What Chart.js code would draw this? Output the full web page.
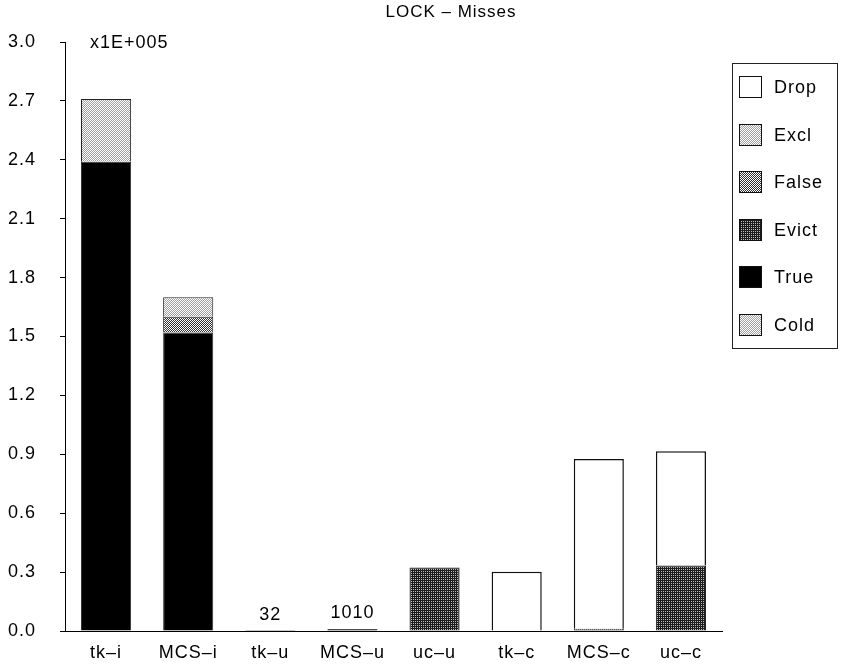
<!DOCTYPE html>
<html>
<head>
<meta charset="utf-8">
<title>LOCK – Misses</title>
<script src="https://cdn.jsdelivr.net/npm/chart.js@4/dist/chart.umd.min.js"></script>
<style>
  html, body { margin: 0; padding: 0; background: #fff; }
  canvas { display: block; }
</style>
</head>
<body>
<canvas id="chart" width="843" height="667"></canvas>
<script>
// Lock implementations, one bar each
const categories = ['tk–i', 'MCS–i', 'tk–u', 'MCS–u', 'uc–u', 'tk–c', 'MCS–c', 'uc–c'];

// Miss counts per category, by miss type (raw counts)
const coldMisses  = [null,   null,   null, null, null,  null,  null,  null];
const trueMisses  = [239000, 152000, 32,   1010, null,  null,  null,  null];
const evictMisses = [null,   null,   null, null, 32300, null,  1200,  33300];
const falseMisses = [null,   8000,   null, null, null,  null,  null,  null];
const exclMisses  = [32000,  10000,  null, null, null,  null,  null,  null];
const dropMisses  = [null,   null,   null, null, null,  30200, 86400, 58200];

// The value axis is shown in units of 1E+005 misses
const AXIS_UNIT = 1e5;
const AXIS_UNIT_LABEL = 'x1E+005';
const yTicks = [0.0, 0.3, 0.6, 0.9, 1.2, 1.5, 1.8, 2.1, 2.4, 2.7, 3.0];

// Bars too small to see get their count written above them
const labelledCategories = ['tk–u', 'MCS–u'];

const FONT = '"Liberation Sans", Arial, Helvetica, sans-serif';
const SPACING = '1px';

// Stipple fills made from a small repeating tile
function stipple(cells) {
  const n = cells.length;
  const tile = document.createElement('canvas');
  tile.width = n; tile.height = n;
  const t = tile.getContext('2d');
  for (let r = 0; r < n; r++) {
    for (let c = 0; c < n; c++) {
      t.fillStyle = cells[r][c];
      t.fillRect(c, r, 1, 1);
    }
  }
  return document.getElementById('chart').getContext('2d').createPattern(tile, 'repeat');
}

const lightFill  = stipple([['#ffffff', '#a0a0a0'], ['#a0a0a0', '#ffffff']]);
const mediumFill = stipple([['#ffffff', '#303030'], ['#303030', '#ffffff']]);
const darkFill   = stipple([['#1c1c1c', '#1c1c1c'], ['#1c1c1c', '#bdbdbd']]);

const toAxis = arr => arr.map(v => (v == null ? null : v / AXIS_UNIT));

// Stacked bottom to top: Cold, True, Evict, False, Excl, Drop
const datasets = [
  { label: 'Cold',  data: toAxis(coldMisses),  backgroundColor: lightFill,  borderColor: '#333', borderWidth: 1 },
  { label: 'True',  data: toAxis(trueMisses),  backgroundColor: '#000000',  borderColor: '#333', borderWidth: 1 },
  { label: 'Evict', data: toAxis(evictMisses), backgroundColor: darkFill,   borderColor: '#222', borderWidth: 1 },
  { label: 'False', data: toAxis(falseMisses), backgroundColor: mediumFill, borderColor: '#222', borderWidth: 1 },
  { label: 'Excl',  data: toAxis(exclMisses),  backgroundColor: lightFill,  borderColor: '#222', borderWidth: 1 },
  { label: 'Drop',  data: toAxis(dropMisses),  backgroundColor: '#ffffff',  borderColor: '#111', borderWidth: 1.5 }
];

function setSpacing(chart) {
  if ('letterSpacing' in chart.ctx) chart.ctx.letterSpacing = SPACING;
}

// Title, axis unit note, value notes and the boxed legend
const decorations = {
  id: 'decorations',
  beforeLayout: setSpacing,
  beforeDraw: setSpacing,
  afterDatasetsDraw(chart) {
    const ctx = chart.ctx;
    const meta = chart.getDatasetMeta(chart.data.datasets.findIndex(d => d.label === 'True'));
    ctx.save();
    setSpacing(chart);
    ctx.fillStyle = '#000';
    ctx.font = '18px ' + FONT;
    ctx.textAlign = 'center';
    ctx.textBaseline = 'alphabetic';
    labelledCategories.forEach(cat => {
      const i = categories.indexOf(cat);
      const bar = meta.data[i];
      ctx.fillText(String(trueMisses[i]), bar.x, bar.y - 11);
    });
    ctx.restore();
  },
  afterDraw(chart) {
    const ctx = chart.ctx;
    const area = chart.chartArea;
    ctx.save();
    setSpacing(chart);
    ctx.fillStyle = '#000';
    ctx.textBaseline = 'middle';

    ctx.font = '17px ' + FONT;
    ctx.textAlign = 'center';
    ctx.fillText('LOCK – Misses', 451, 12);

    ctx.font = '18px ' + FONT;
    ctx.textAlign = 'left';
    ctx.fillText(AXIS_UNIT_LABEL, area.left + 25, area.top + 1);

    // legend box, top entry is the top of the stack
    const boxLeft = 732.5, boxTop = 63.5, boxW = 105, boxH = 285;
    ctx.strokeStyle = '#222';
    ctx.lineWidth = 1;
    ctx.strokeRect(boxLeft, boxTop, boxW, boxH);
    const items = chart.data.datasets.slice().reverse();
    items.forEach((ds, k) => {
      const yc = 87 + k * 47.6;
      ctx.fillStyle = ds.backgroundColor;
      ctx.fillRect(739, Math.round(yc - 11), 23, 22);
      ctx.strokeStyle = '#111';
      ctx.strokeRect(739.5, Math.round(yc - 11) + 0.5, 22, 21);
      ctx.fillStyle = '#000';
      ctx.font = '18px ' + FONT;
      ctx.fillText(ds.label, 774, yc + 1);
    });
    ctx.restore();
  }
};

new Chart(document.getElementById('chart'), {
  type: 'bar',
  data: { labels: categories, datasets },
  plugins: [decorations],
  options: {
    responsive: false,
    animation: false,
    devicePixelRatio: 1,
    layout: { padding: { left: 8, top: 42, right: 121, bottom: 4 } },
    plugins: {
      legend: { display: false },
      title: { display: false },
      tooltip: { enabled: false }
    },
    datasets: {
      bar: { barPercentage: 0.61, categoryPercentage: 1.0 }
    },
    scales: {
      x: {
        stacked: true,
        grid: { display: false },
        border: { display: true, color: '#000', width: 1 },
        ticks: { color: '#000', font: { family: FONT, size: 18 }, padding: 3, maxRotation: 0 },
        afterFit(scale) { scale.height = 32; }
      },
      y: {
        stacked: true,
        min: 0,
        max: 3.0,
        grid: { display: true, drawOnChartArea: false, drawTicks: true, tickLength: 5, color: '#000', lineWidth: 1 },
        border: { display: true, color: '#000', width: 1 },
        afterBuildTicks(scale) { scale.ticks = yTicks.map(v => ({ value: v })); },
        ticks: {
          color: '#000',
          crossAlign: 'far',
          font: { family: FONT, size: 18 },
          callback: v => Number(v).toFixed(1)
        },
        afterFit(scale) { scale.width = 57; }
      }
    }
  }
});
</script>
</body>
</html>
